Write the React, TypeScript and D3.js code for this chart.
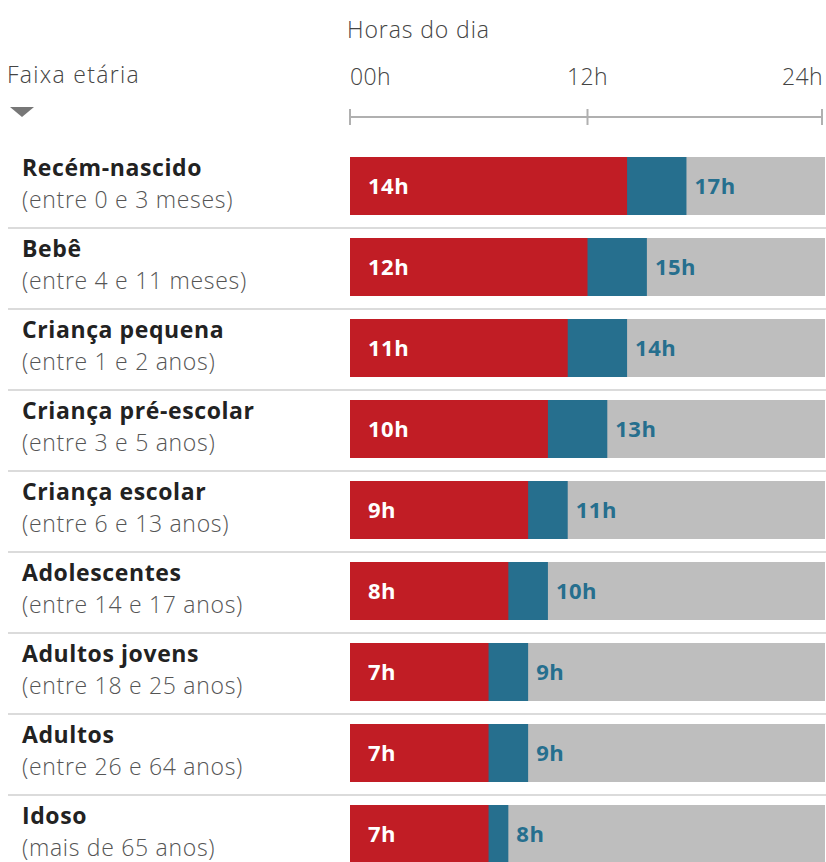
import * as d3 from 'd3';

const GROUPS = [
  'Recém-nascido',
  'Bebê',
  'Criança pequena',
  'Criança pré-escolar',
  'Criança escolar',
  'Adolescentes',
  'Adultos jovens',
  'Adultos',
  'Idoso',
];
const RANGES = [
  '(entre 0 e 3 meses)',
  '(entre 4 e 11 meses)',
  '(entre 1 e 2 anos)',
  '(entre 3 e 5 anos)',
  '(entre 6 e 13 anos)',
  '(entre 14 e 17 anos)',
  '(entre 18 e 25 anos)',
  '(entre 26 e 64 anos)',
  '(mais de 65 anos)',
];
const MIN_HOURS = [14, 12, 11, 10, 9, 8, 7, 7, 7];
const MAX_HOURS = [17, 15, 14, 13, 11, 10, 9, 9, 8];
const TICKS = [0, 12, 24];
const TICK_LABELS = ['00h', '12h', '24h'];

const W = 826;
const H = 862;
const RED = '#C11D25';
const BLUE = '#266F8E';
const GREY = '#BEBEBE';
const FONT = "'Open Sans', 'Noto Sans', sans-serif";

export default function App() {
  const x = d3.scaleLinear().domain([0, 24]).range([350, 825]);
  const y = d3.scaleBand<number>().domain(d3.range(GROUPS.length)).range([157, 157 + 81 * GROUPS.length]).paddingInner(0).paddingOuter(0);
  const barH = 58;
  const axisY = 117;

  return (
    <div style={{ position: 'absolute', left: 0, top: 0 }}>
      <svg width={W} height={H} style={{ display: 'block', background: '#fff' }} fontFamily={FONT}>
        <text x={347} y={38} fontSize={23} fill="#444" fontWeight={300} letterSpacing={0.9}>Horas do dia</text>
        <text x={7} y={83} fontSize={23} fill="#444" fontWeight={300} letterSpacing={1.3}>Faixa etária</text>
        <path d="M10,107 L34,107 L22,117 Z" fill="#777" />

        {TICKS.map((t, i) => (
          <text
            key={t}
            x={x(t) + (i === TICKS.length - 1 ? -2 : 0)}
            y={85}
            fontSize={23}
            fill="#444"
            fontWeight={300}
            letterSpacing={0.4}
            textAnchor={i === 0 ? 'start' : i === TICKS.length - 1 ? 'end' : 'middle'}
          >
            {TICK_LABELS[i]}
          </text>
        ))}
        <line x1={x(0)} x2={x(24) - 2} y1={axisY} y2={axisY} stroke="#B0B0B0" strokeWidth={2} />
        {TICKS.map((t, i) => (
          <line
            key={t}
            x1={x(t) - (i === TICKS.length - 1 ? 3 : 0)}
            x2={x(t) - (i === TICKS.length - 1 ? 3 : 0)}
            y1={axisY - 8}
            y2={axisY + 8}
            stroke="#B0B0B0"
            strokeWidth={2}
          />
        ))}

        {GROUPS.map((g, i) => {
          const top = y(i) || 0;
          return (
            <g key={g}>
              {i > 0 && (
                <line x1={8} x2={W} y1={top - 10} y2={top - 10} stroke="#CFCFCF" strokeWidth={1.5} />
              )}
              <text x={22} y={top + 19} fontSize={23} fontWeight={700} fill="#222" letterSpacing={0.6}>{g}</text>
              <text x={22} y={top + 51} fontSize={23} fontWeight={300} fill="#555" letterSpacing={0.7}>{RANGES[i]}</text>
              <rect x={x(0)} y={top} width={x(24) - x(0)} height={barH} fill={GREY} />
              <rect x={x(0)} y={top} width={x(MAX_HOURS[i]) - x(0)} height={barH} fill={BLUE} />
              <rect x={x(0)} y={top} width={x(MIN_HOURS[i]) - x(0)} height={barH} fill={RED} />
              <text x={x(0) + 18} y={top + barH / 2 + 8} fontSize={22} fontWeight={700} fill="#fff" letterSpacing={0.5}>
                {MIN_HOURS[i]}h
              </text>
              <text x={x(MAX_HOURS[i]) + 8} y={top + barH / 2 + 8} fontSize={22} fontWeight={700} fill={BLUE} letterSpacing={0.5}>
                {MAX_HOURS[i]}h
              </text>
            </g>
          );
        })}
      </svg>
    </div>
  );
}
